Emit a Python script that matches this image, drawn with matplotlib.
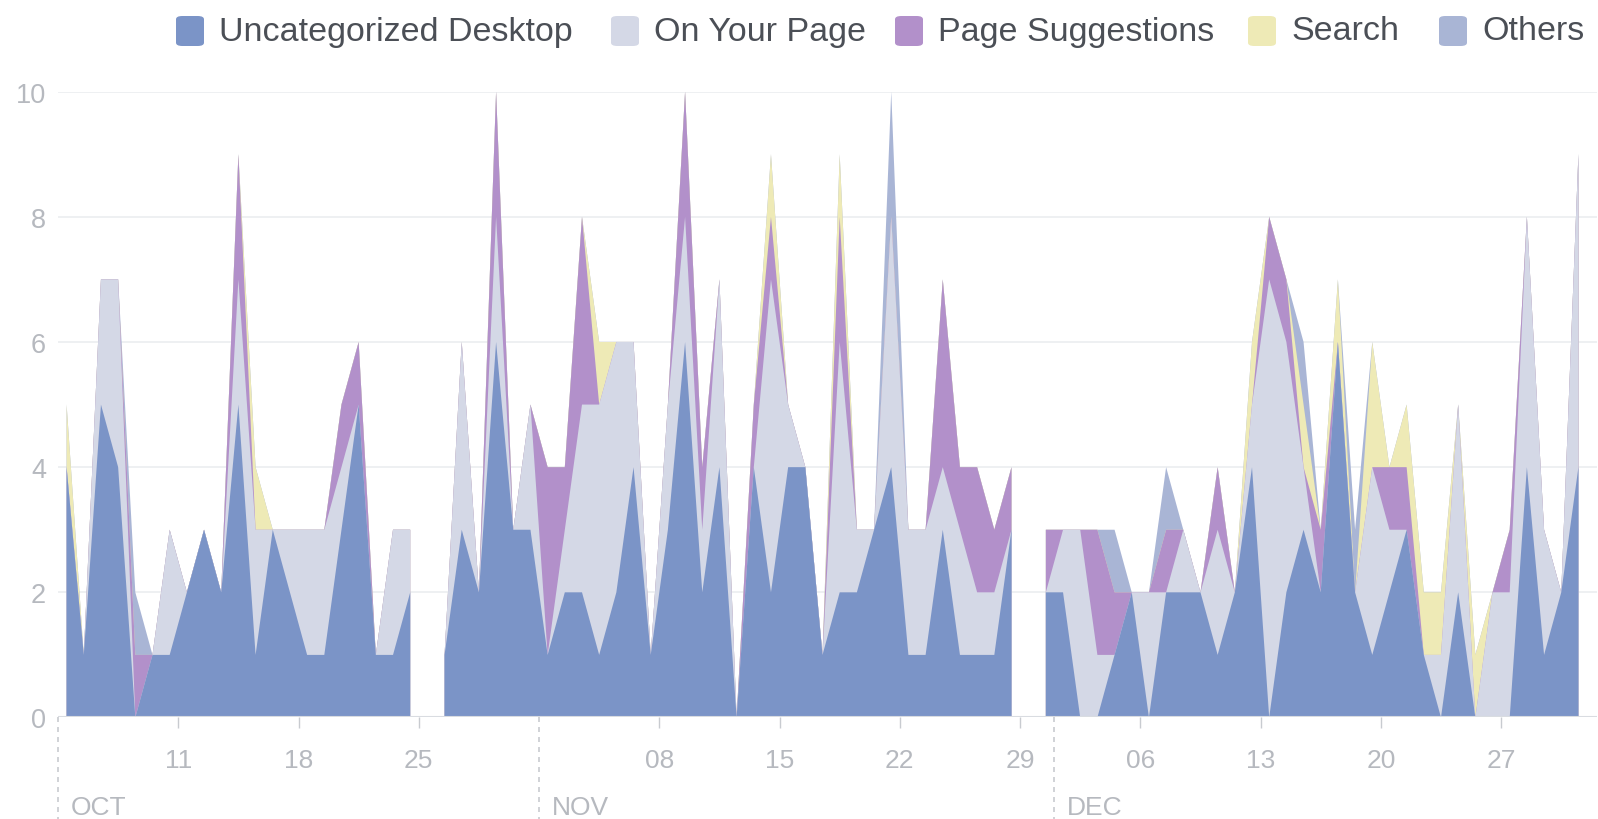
#
########################################################################
# Bibliotecas
########################################################################
#
import numpy as np
import pandas as pd
import matplotlib
matplotlib.use("Agg")
import matplotlib.pyplot as plt
from matplotlib.patches import FancyBboxPatch

#
########################################################################
# Dados (um valor por dia, None = dia sem dados)
########################################################################
#
N = None
dias = pd.date_range("2017-10-04 12:00", "2017-12-31 12:00", freq="D")

uncategorized = [4, 1, 5, 4, 0, 1, 1, 2, 3, 2, 5, 1, 3, 2, 1, 1, 3, 5, 1, 1, 2, N,
                 1, 3, 2, 6, 3, 3,
                 1, 2, 2, 1, 2, 4, 1, 3, 6, 2, 4, 0, 4, 2, 4, 4, 1, 2, 2, 3,
                 4, 1, 1, 3, 1, 1, 1, 3, N,
                 2,
                 2, 0, 0, 1, 2, 0, 2, 2, 2, 1, 2, 4, 0, 2, 3, 2, 6, 2, 1, 2,
                 3, 1, 0, 2, 0, 0, 0, 4, 1, 2, 4]
on_your_page = [0, 0, 2, 3, 0, 0, 2, 0, 0, 0, 2, 2, 0, 1, 2, 2, 1, 0, 0, 2, 1, N,
                0, 3, 0, 2, 0, 2,
                0, 1, 3, 4, 4, 2, 0, 2, 2, 1, 3, 0, 0, 5, 1, 0, 0, 4, 1, 0,
                4, 2, 2, 1, 2, 1, 1, 0, N,
                0,
                1, 3, 1, 0, 0, 2, 0, 1, 0, 2, 0, 1, 7, 4, 1, 0, 0, 0, 3, 1,
                0, 0, 1, 3, 0, 2, 2, 4, 2, 0, 5]
page_suggestions = [0, 0, 0, 0, 1, 0, 0, 0, 0, 0, 2, 0, 0, 0, 0, 0, 1, 1, 0, 0, 0, N,
                    0, 0, 0, 2, 0, 0,
                    3, 1, 3, 0, 0, 0, 0, 0, 2, 1, 0, 0, 1, 1, 0, 0, 0, 2, 0, 0,
                    0, 0, 0, 3, 1, 2, 1, 1, N,
                    1,
                    0, 0, 2, 1, 0, 0, 1, 0, 0, 1, 0, 0, 1, 1, 0, 1, 0, 0, 0, 1,
                    1, 0, 0, 0, 0, 0, 1, 0, 0, 0, 0]
search = [1, 0, 0, 0, 0, 0, 0, 0, 0, 0, 0, 1, 0, 0, 0, 0, 0, 0, 0, 0, 0, N,
          0, 0, 0, 0, 0, 0,
          0, 0, 0, 1, 0, 0, 0, 0, 0, 0, 0, 0, 0, 1, 0, 0, 0, 1, 0, 0,
          0, 0, 0, 0, 0, 0, 0, 0, N,
          0,
          0, 0, 0, 0, 0, 0, 0, 0, 0, 0, 0, 1, 0, 0, 1, 0, 1, 0, 2, 0,
          1, 1, 1, 0, 1, 0, 0, 0, 0, 0, 0]
others = [0, 0, 0, 0, 1, 0, 0, 0, 0, 0, 0, 0, 0, 0, 0, 0, 0, 0, 0, 0, 0, N,
          0, 0, 0, 0, 0, 0,
          0, 0, 0, 0, 0, 0, 0, 0, 0, 0, 0, 0, 0, 0, 0, 0, 0, 0, 0, 0,
          2, 0, 0, 0, 0, 0, 0, 0, N,
          0,
          0, 0, 0, 1, 0, 0, 1, 0, 0, 0, 0, 0, 0, 0, 1, 0, 0, 1, 0, 0,
          0, 0, 0, 0, 0, 0, 0, 0, 0, 0, 0]

series = ["Uncategorized Desktop", "On Your Page", "Page Suggestions", "Search", "Others"]
cores = ["#7b94c7", "#d4d8e6", "#b290ca", "#eeeab6", "#a9b5d5"]

semanas = [d for d in pd.date_range("2017-10-11", "2017-12-27", freq="7D")
           if d.day != 1]
meses = [pd.Timestamp("2017-10-04"), pd.Timestamp("2017-11-01"), pd.Timestamp("2017-12-01")]
nomes_meses = ["OCT", "NOV", "DEC"]

#
########################################################################
# Figura
########################################################################
#
plt.rcParams["font.family"] = ["Liberation Sans", "DejaVu Sans"]
CINZA = "#b6b9bf"

fig = plt.figure(figsize=(15.98, 8.2), dpi=100)
ax = fig.add_axes([0.0363, 0.1238, 0.9631, 0.7632])

valores = [np.array([np.nan if v is None else v for v in s], dtype=float)
           for s in [uncategorized, on_your_page, page_suggestions, search, others]]
acumulado = np.cumsum(valores, axis=0)

# desenha do total para baixo, cada camada a partir de zero (sem frestas)
for i in range(len(series) - 1, -1, -1):
    ax.fill_between(dias, 0, acumulado[i], color=cores[i], linewidth=0, zorder=2)

ax.set_ylim(0, 10)
ax.set_xlim(pd.Timestamp("2017-10-04"), pd.Timestamp("2018-01-01 14:00"))

ax.set_yticks(range(0, 11, 2))
for y in range(2, 11, 2):
    ax.axhline(y, color="#ebedf0", linewidth=1.2, zorder=1)
ax.axhline(0, color="#d9dce1", linewidth=1.5, zorder=3)

for lado in ["top", "right", "left", "bottom"]:
    ax.spines[lado].set_visible(False)

ax.set_xticks(semanas)
ax.set_xticklabels([d.strftime("%d") for d in semanas])
ax.tick_params(axis="x", length=8, width=1, color="#c8cbd0", pad=14,
               labelsize=19, labelcolor=CINZA)
ax.tick_params(axis="y", length=0, pad=8.5, labelsize=19.5, labelcolor=CINZA)

for d, nome in zip(meses, nomes_meses):
    ax.plot([d, d], [0, -0.165], transform=ax.get_xaxis_transform(),
            color="#c8cbd0", linewidth=1.2, linestyle=(0, (3, 3)), clip_on=False)
    ax.text(d + pd.Timedelta(hours=18), -0.143, nome, transform=ax.get_xaxis_transform(),
            ha="left", va="center", fontsize=19, color=CINZA)

#
########################################################################
# Legenda
########################################################################
#
legenda_x = [176, 611, 895, 1248, 1439]
for x, nome, cor in zip(legenda_x, series, cores):
    fig.patches.append(FancyBboxPatch((x / 1598, 1 - 47 / 820), 28 / 1598, 30 / 820,
                                      boxstyle="round,pad=0,rounding_size=0.004",
                                      transform=fig.transFigure, facecolor=cor,
                                      edgecolor="none"))
    fig.text((x + 43) / 1598, 1 - 32 / 820, nome, ha="left", va="center",
             fontsize=24.5, color="#4b4f56")

fig.savefig("out.png", dpi=100)
